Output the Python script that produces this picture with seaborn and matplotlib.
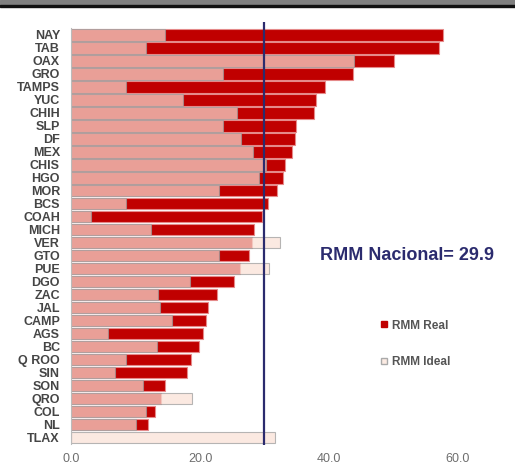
import matplotlib
matplotlib.use("Agg")
import matplotlib.pyplot as plt
from matplotlib.lines import Line2D
import seaborn as sns
import pandas as pd

# data
states = ['NAY', 'TAB', 'OAX', 'GRO', 'TAMPS', 'YUC', 'CHIH', 'SLP', 'DF', 'MEX',
          'CHIS', 'HGO', 'MOR', 'BCS', 'COAH', 'MICH', 'VER', 'GTO', 'PUE', 'DGO',
          'ZAC', 'JAL', 'CAMP', 'AGS', 'BC', 'Q ROO', 'SIN', 'SON', 'QRO', 'COL',
          'NL', 'TLAX']
rmm_real = [57.6, 57.1, 50.1, 43.7, 39.4, 38.0, 37.6, 34.9, 34.7, 34.3,
            33.2, 32.8, 31.9, 30.5, 29.6, 28.4, 28.1, 27.6, 26.2, 25.3,
            22.7, 21.2, 20.9, 20.4, 19.9, 18.6, 18.0, 14.6, 13.9, 13.1,
            11.9, 0.0]
rmm_ideal = [14.5, 11.6, 43.8, 23.6, 8.6, 17.4, 25.8, 23.5, 26.3, 28.2,
             30.3, 29.2, 22.9, 8.6, 3.1, 12.4, 32.4, 22.9, 30.7, 18.5,
             13.5, 13.8, 15.7, 5.8, 13.4, 8.6, 6.8, 11.1, 18.7, 11.6,
             10.1, 31.7]
rmm_nacional = 29.9

df = pd.DataFrame({'estado': states, 'real': rmm_real, 'ideal': rmm_ideal})

navy = '#2B2B6E'
red = '#C00000'
ideal_col = '#FAE1D6'

fig = plt.figure(figsize=(5.15, 4.71), dpi=100)
ax = fig.add_axes([71 / 515, 1 - 445 / 471, 66 * 6.45 / 515, 423 / 471])

sns.barplot(data=df, x='real', y='estado', order=states, orient='h', color=red,
            saturation=1, width=0.88, edgecolor='#E58A8A', linewidth=0.8, ax=ax)
sns.barplot(data=df, x='ideal', y='estado', order=states, orient='h', color=ideal_col,
            saturation=1, width=0.88, edgecolor='#9A9A9A', linewidth=0.8, alpha=0.71, ax=ax)

ax.axvline(rmm_nacional, color=navy, lw=1.6, zorder=5)

ax.set_xlim(0, 66)
ax.set_ylim(31.58, -1.0)
ax.set_xticks([0, 20, 40, 60])
ax.set_xticklabels(['0.0', '20.0', '40.0', '60.0'], fontsize=9, color='#6E6E6E')
ax.set_yticks(range(len(states)))
ax.set_yticklabels(states, fontsize=9, fontweight='bold', color='#454545')
ax.tick_params(axis='both', length=0)
ax.tick_params(axis='y', pad=8)
ax.tick_params(axis='x', pad=6)
ax.set_xlabel('')
ax.set_ylabel('')
for s in ['top', 'right', 'bottom']:
    ax.spines[s].set_visible(False)
ax.spines['left'].set_color('#BBBBBB')
ax.spines['left'].set_bounds(31.5, -0.5)

for t in ax.get_yticklabels() + ax.get_xticklabels():
    t.set_family(['Liberation Sans', 'DejaVu Sans'])

fig.text(320 / 515, 1 - 255 / 471, 'RMM Nacional= 29.9', fontsize=13, fontweight='bold',
         color=navy, va='center', ha='left', family=['Liberation Sans', 'DejaVu Sans'])

handles = [Line2D([], [], marker='s', ls='', markersize=5, markerfacecolor=red,
                  markeredgecolor=red, label='RMM Real'),
           Line2D([], [], marker='s', ls='', markersize=5, markerfacecolor='#FCEBE3',
                  markeredgecolor='#AAAAAA', label='RMM Ideal')]
leg = fig.legend(handles=handles, loc='center left', bbox_to_anchor=(373 / 515, 1 - 344 / 471),
                 frameon=False, labelspacing=2.1, handlelength=0.8, handletextpad=0.3,
                 borderpad=0, prop={'size': 8.5, 'weight': 'bold', 'family': 'Liberation Sans'})
for t in leg.get_texts():
    t.set_color('#555555')

# header band
fig.patches.append(plt.Rectangle((0, 1 - 5 / 471), 1, 5 / 471, transform=fig.transFigure,
                                 color='#808080', zorder=0))
fig.patches.append(plt.Rectangle((0, 1 - 7 / 471), 1, 2 / 471, transform=fig.transFigure,
                                 color='#111111', zorder=0))

fig.savefig('out.png', dpi=100)
